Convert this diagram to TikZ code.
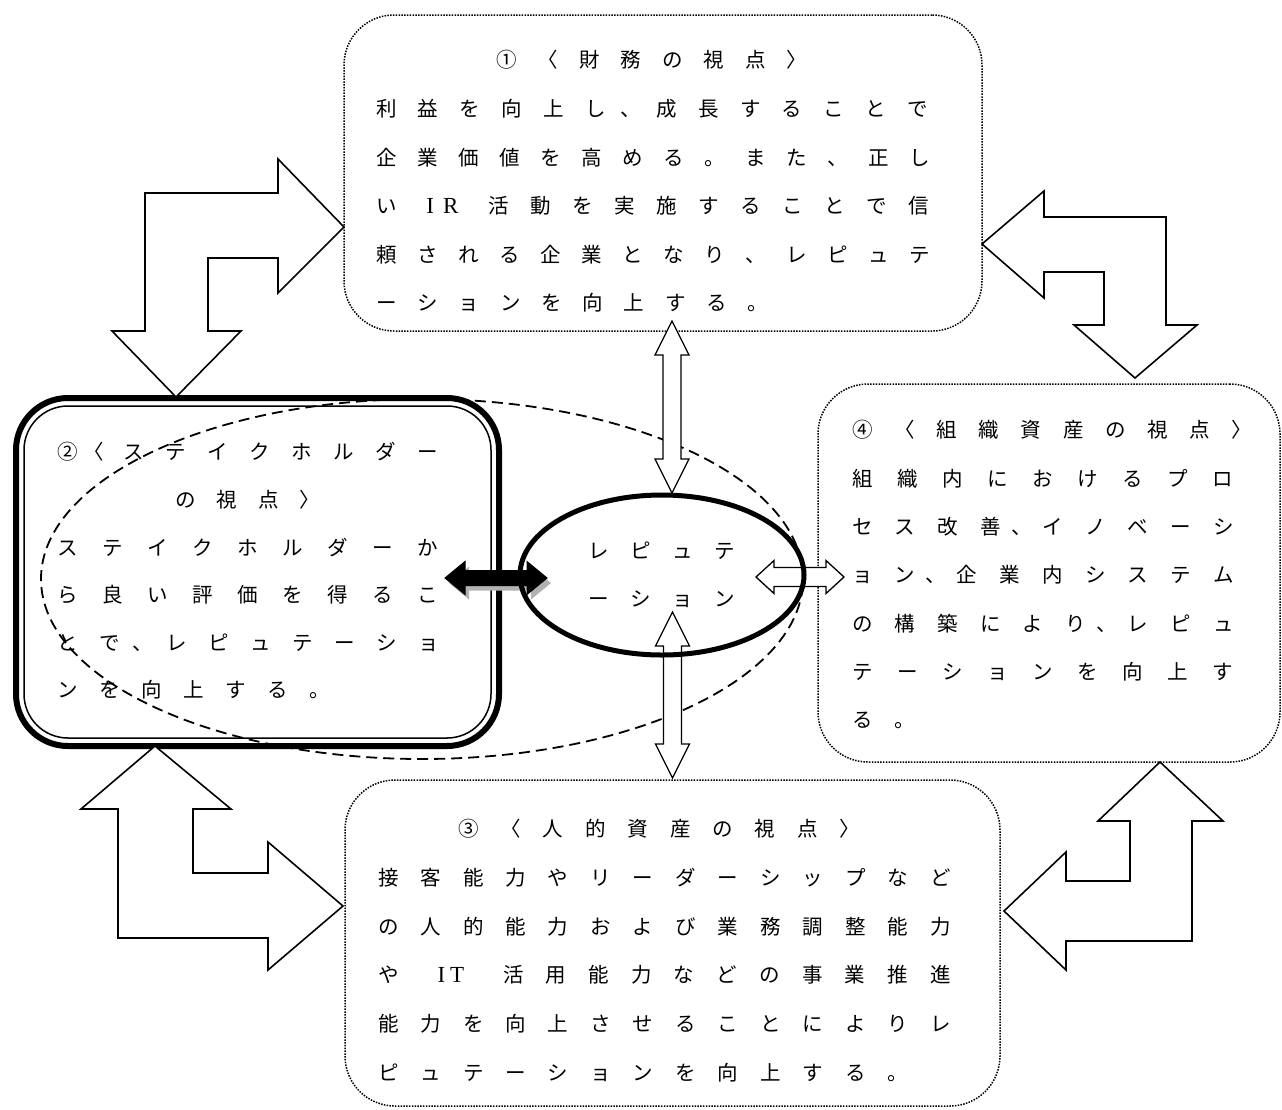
\documentclass[tikz,border=0pt]{standalone}
\usepackage{fontspec}
\newfontfamily\jpfont{Noto Sans CJK JP}
\newfontfamily\latinfont{Liberation Serif}
\usetikzlibrary{calc, positioning, shapes.geometric, shadows}

% evenly spaced characters, one box of width #1 each
\makeatletter
\newcommand\jp[2]{\@tfor\jp@c:=#2\do{\makebox[#1pt][c]{\jp@c}}}
\makeatother

\begin{document}
\begin{tikzpicture}[
    x=1pt, y=-1pt,
    thick,
    viewbox/.style={draw, dash pattern=on 1.5pt off 1.3pt, line width=1.5pt, rounded corners=50pt, inner sep=0pt, outer sep=0pt},
    jptext/.style={font=\jpfont\fontsize{20.5pt}{24pt}\selectfont, inner sep=0pt, anchor=base west},
    blockarrow/.style={draw, fill=white, line width=1.6pt, line join=miter},
    thinarrow/.style={draw, fill=white, line width=1.3pt, line join=miter}
]

    \useasboundingbox (0,0) rectangle (1282,1109);

    % Dashed zone
    \node[ellipse, draw, dash pattern=on 11pt off 6pt, line width=1.8pt, minimum width=762pt, minimum height=360pt, inner sep=0pt, outer sep=0pt] (repzone) at (422,579) {};

    % Views
    \node[viewbox, minimum width=638pt, minimum height=316pt] (fin) at (663,173) {};
    \node[viewbox, minimum width=462pt, minimum height=378pt] (org) at (1049,573) {};
    \node[viewbox, minimum width=655pt, minimum height=326pt] (hum) at (672.5,943) {};

    % Stakeholder view, double frame
    \node[draw, line width=6pt, rounded corners=52pt, minimum width=483pt, minimum height=348pt, inner sep=0pt, outer sep=0pt] (stake) at (257.5,572) {};
    \draw[line width=1.5pt, rounded corners=44pt] ($(stake.north west)+(8,8)$) rectangle ($(stake.south east)+(-8,-8)$);

    % Bent arrows between the views
    \coordinate (finL) at ($(fin.west)+(0,54)$);
    \coordinate (finR) at ($(fin.east)+(0,71)$);
    \coordinate (stkB) at ($(stake.south)+(-102.5,0)$);
    \coordinate (orgB) at ($(org.south)+(111,0)$);

    \draw[blockarrow] (finL) -- ++(-66,-68) -- ++(0,34) -- ++(-133,0) -- ++(0,138) -- ++(-33,0)
        -- ++(64,66) -- ++(65,-66) -- ++(-33,0) -- ++(0,-73) -- ++(70,0) -- ++(0,35) -- cycle;
    \draw[blockarrow] (finR) -- ++(62,-53) -- ++(0,26) -- ++(122,0) -- ++(0,108) -- ++(31,0)
        -- ++(-62,53) -- ++(-61,-53) -- ++(30,0) -- ++(0,-53) -- ++(-60,0) -- ++(0,26) -- cycle;
    \draw[blockarrow] (stkB) -- ++(76,63) -- ++(-38,0) -- ++(0,64) -- ++(75,0) -- ++(0,-31)
        -- ++(75,64) -- ++(-75,64) -- ++(0,-32) -- ++(-150,0) -- ++(0,-129) -- ++(-37,0) -- cycle;
    \draw[blockarrow] (orgB) -- ++(63,59) -- ++(-31,0) -- ++(0,120) -- ++(-126,0) -- ++(0,29)
        -- ++(-62,-59) -- ++(62,-59) -- ++(0,29) -- ++(64,0) -- ++(0,-60) -- ++(-32,0) -- cycle;

    % Double arrows to the reputation
    \coordinate (finS) at ($(fin.south)+(9,-10)$);
    \coordinate (humN) at ($(hum.north)+(0,-2)$);
    \coordinate (orgW) at ($(org.west)+(26,4)$);
    \coordinate (stkE) at ($(stake.east)+(-54,6)$);

    \draw[thinarrow] (finS) -- ++(17,34) -- ++(-8,0) -- ++(0,104) -- ++(8,0) -- ++(-17,34)
        -- ++(-17,-34) -- ++(8,0) -- ++(0,-104) -- ++(-8,0) -- cycle;
    \draw[thinarrow] (humN) -- ++(-17,-34) -- ++(8,0) -- ++(0,-98) -- ++(-8,0) -- ++(17,-34)
        -- ++(17,34) -- ++(-8,0) -- ++(0,98) -- ++(8,0) -- cycle;
    \draw[thinarrow] (orgW) -- ++(-18,-16.5) -- ++(0,7) -- ++(-52,0) -- ++(0,-7) -- ++(-18,16.5)
        -- ++(18,16.5) -- ++(0,-7) -- ++(52,0) -- ++(0,7) -- cycle;
    \draw[fill=black, line width=1pt, drop shadow={shadow xshift=4pt, shadow yshift=-5pt, fill=gray!60, opacity=1}]
        (stkE) -- ++(20,-16.5) -- ++(0,9) -- ++(62,0) -- ++(0,-9) -- ++(20,16.5)
        -- ++(-20,16.5) -- ++(0,-9) -- ++(-62,0) -- ++(0,9) -- cycle;

    % Reputation
    \node[ellipse, draw, line width=5pt, minimum width=284pt, minimum height=160pt, inner sep=0pt, outer sep=0pt,
        align=center, font=\jpfont\fontsize{20.5pt}{48pt}\selectfont] (rep) at (662,575)
        {\jp{42}{レピュテ}\\\jp{42}{ーション}};

    % Texts: financial view
    \node[jptext] (fin-title) at (485.25,67.8) {\jp{41.5}{①〈財務の視点〉}};
    \foreach \x/\t [count=\i from 0] in {
        365.1/{\jp{41.8}{利益を向上し}\makebox[29.5pt][c]{、}\jp{41.8}{成長することで}},
        365.5/{\jp{41}{企業価値を高める。また、正し}},
        365/{\jp{42}{い}\makebox[70pt][c]{\latinfont\fontsize{23pt}{24pt}\selectfont I\hspace{9pt}R}\jp{42}{活動を実施することで信}},
        365.5/{\jp{41}{頼される企業となり、レピュテ}},
        365.35/{\jp{41.3}{ーションを向上する。}}}
        \node[jptext] (fin-\i) at (\x,116.4+48.6*\i) {\t};

    % Texts: stakeholder view
    \foreach \x/\t [count=\i from 0] in {
        50.5/{\makebox[33pt][c]{②}\makebox[29pt][l]{〈}\jp{42}{ステイクホルダー}},
        164.25/{\jp{41.5}{の視点〉}},
        44.45/{\jp{45.1}{ステイクホルダーか}},
        44.45/{\jp{45.1}{ら良い評価を得るこ}},
        46/{\jp{42}{とで}\makebox[25pt][c]{、}\jp{42}{レピュテーショ}},
        46/{\jp{42}{ンを向上する。}}}
        \node[jptext] (stake-\i) at (\x,459.8+47.6*\i) {\t};

    % Texts: organisation view
    \foreach \x/\t [count=\i from 0] in {
        840.9/{\jp{42.2}{④〈組織資産の視点〉}},
        839.45/{\jp{45.1}{組織内におけるプロ}},
        840.65/{\jp{42.7}{セス改善}\makebox[19.4pt][c]{、}\jp{42.7}{イノベーシ}},
        840.65/{\jp{42.7}{ョン}\makebox[19.4pt][c]{、}\jp{42.7}{企業内システム}},
        840.65/{\jp{42.7}{の構築により}\makebox[19.4pt][c]{、}\jp{42.7}{レピュ}},
        839.45/{\jp{45.1}{テーションを向上す}},
        841/{\jp{42}{る。}}}
        \node[jptext] (org-\i) at (\x,437.8+48.3*\i) {\t};

    % Texts: human view
    \foreach \x/\t [count=\i from 0] in {
        446.8/{\jp{42.4}{③〈人的資産の視点〉}},
        366.77/{\jp{42.46}{接客能力やリーダーシップなど}},
        366.77/{\jp{42.46}{の人的能力および業務調整能力}},
        366.65/{\jp{42.7}{や}\makebox[82.3pt][c]{\latinfont\fontsize{23pt}{24pt}\selectfont I\hspace{5pt}T}\jp{42.7}{活用能力などの事業推進}},
        366.77/{\jp{42.46}{能力を向上させることによりレ}},
        366.77/{\jp{42.46}{ピュテーションを向上する。}}}
        \node[jptext] (hum-\i) at (\x,836.8+48.7*\i) {\t};

\end{tikzpicture}
\end{document}
